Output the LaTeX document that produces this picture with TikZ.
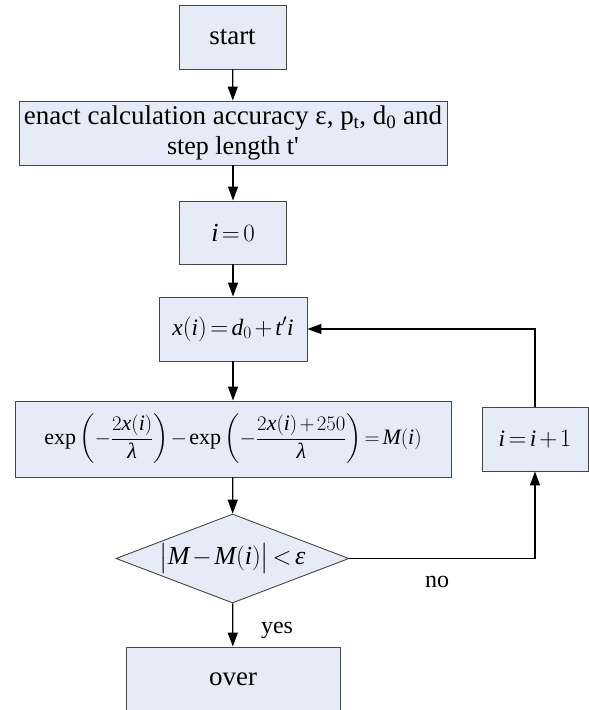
\documentclass[tikz,border=0pt]{standalone}
\usepackage{amsmath}
\usepackage{fontspec}
\setmainfont{Liberation Serif}
\usetikzlibrary{arrows.meta,shapes.geometric}
\definecolor{boxfill}{RGB}{230,236,247}
\definecolor{boxline}{RGB}{70,70,70}
\newcommand\mi[1]{\textit{#1}}
\thickmuskip=2.5mu plus 1mu
\medmuskip=2mu plus 1mu
\begin{document}
\begin{tikzpicture}[x=1pt,y=-1pt,
  box/.style={draw=boxline, fill=boxfill, line width=0.9pt, inner sep=0pt, align=center, font=\fontsize{26}{30}\selectfont},
  dec/.style={diamond, aspect=2.6, draw=boxline, fill=boxfill, line width=0.9pt, inner sep=0pt, font=\fontsize{26}{30}\selectfont},
  conn/.style={line width=1.3pt, -{Triangle[length=14pt,width=10pt]}},
  lbl/.style={font=\fontsize{24}{29}\selectfont, inner sep=0pt}]
\useasboundingbox (0,0) rectangle (589,710);
\node[box, minimum width=107pt, minimum height=64pt] (start) at (232.5,37) {\fontsize{27}{30}\selectfont start};
\node[box, minimum width=428pt, minimum height=64pt] (enact) at (233,133)
  {\fontsize{27}{30}\selectfont enact calculation accuracy ε, p\textsubscript{t}, d\textsubscript{0} and\\ step length t\textquotesingle};
\node[box, minimum width=107pt, minimum height=63pt] (i0) at (233,232.5) {$\mi{i}=0$};
\node[box, minimum width=148pt, minimum height=64pt, font=\fontsize{23.5}{28}\selectfont] (xi) at (233,329) {$\mi{x}(\mi{i})=\mi{d}_0+\mi{t}'\mi{i}$};
\node[box, minimum width=436pt, minimum height=76pt] (expb) at (233,439)
  {\fontsize{22}{26}\selectfont$\exp\left(-\dfrac{2\mi{x}(\mi{i})}{\mi{λ}}\right)-\exp\left(-\dfrac{2\mi{x}(\mi{i})+250}{\mi{λ}}\right)=\mi{M}(\mi{i})$};
\node[dec, minimum width=233pt, minimum height=89pt] (cond) at (232.5,558.5) {$\bigl|\mi{M}-\mi{M}(\mi{i})\bigr|<\mi{ε}$};
\node[box, minimum width=214pt, minimum height=70pt] (over) at (233,682) {};
\node[lbl, font=\fontsize{27}{30}\selectfont] (overtxt) at (233,679) {over};
\node[box, minimum width=106pt, minimum height=64pt, font=\fontsize{23.5}{28}\selectfont] (inc) at (535,439) {$\mi{i}=\mi{i}+1$};
\node[lbl] (no) at (437,582) {no};
\node[lbl] (yes) at (277,630) {yes};
\draw[conn] (start) -- (enact);
\draw[conn] (enact) -- (i0);
\draw[conn] (i0) -- (xi);
\draw[conn] (xi) -- (expb);
\draw[conn] (expb) -- (cond);
\draw[conn] (cond) -- (over);
\draw[conn] (cond.east) -| (inc.south);
\draw[conn] (inc.north) |- (xi.east);
\end{tikzpicture}
\end{document}
